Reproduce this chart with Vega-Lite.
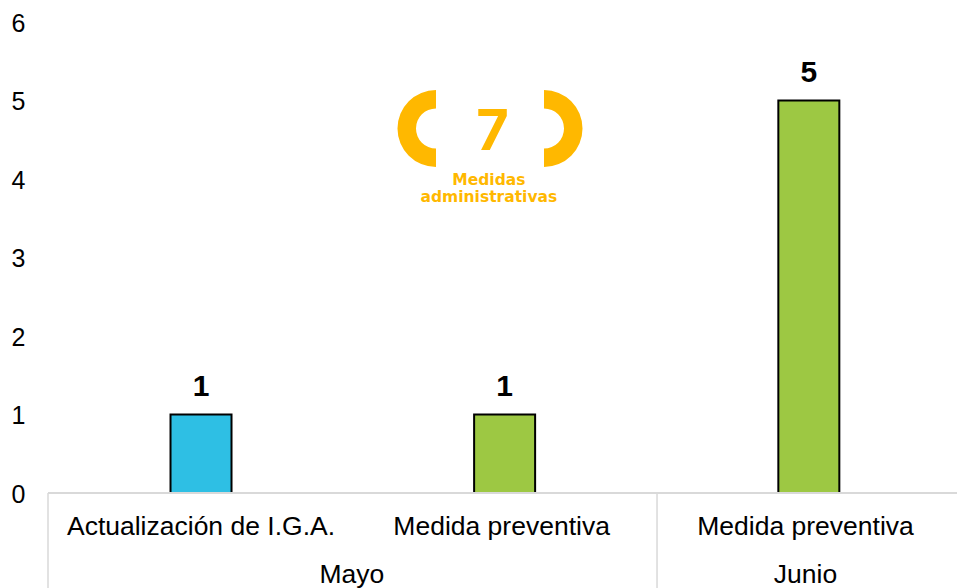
{
"$schema":"https://vega.github.io/schema/vega-lite/v6.json",
"width":909,"height":566,
"autosize":{"type":"none"},
"padding":{"left":48,"top":22,"right":0,"bottom":0},
"background":"white",
"config":{"view":{"stroke":null},"font":"Liberation Sans"},
"datasets":{
"barras":[
{"pos":0.505,"valor":1,"tipo":"Actualización de I.G.A.","mes":"Mayo"},
{"pos":1.507,"valor":1,"tipo":"Medida preventiva","mes":"Mayo"},
{"pos":2.511,"valor":5,"tipo":"Medida preventiva","mes":"Junio"}],
"cat":[
{"pos":0.505,"nivel":-0.43,"texto":"Actualización de I.G.A."},
{"pos":1.497,"nivel":-0.43,"texto":"Medida preventiva"},
{"pos":2.5,"nivel":-0.43,"texto":"Medida preventiva"},
{"pos":1.003,"nivel":-1.04,"texto":"Mayo"},
{"pos":2.5,"nivel":-1.04,"texto":"Junio"}],
"sep":[{"pos":0,"a":-1.212,"b":0},{"pos":2.01,"a":-1.212,"b":0}],
"base":[{"a":0,"b":3,"nivel":0}],
"logoIzq":[{"pos":1.2805,"nivel":4.643}],
"logoDer":[{"pos":1.637,"nivel":4.643}],
"logoNum":[{"pos":1.467,"nivel":4.58,"texto":"7"}],
"logoTxt":[{"pos":1.455,"nivel":3.985,"texto":"Medidas"},{"pos":1.455,"nivel":3.765,"texto":"administrativas"}]
},
"layer":[
{"data":{"name":"sep"},"mark":{"type":"rule","color":"#D9D9D9","strokeWidth":1.5},
"encoding":{"x":{"field":"pos","type":"quantitative","scale":{"domain":[0,3],"nice":false,"zero":false,"padding":0},"axis":null},
"y":{"field":"a","type":"quantitative","scale":{"domain":[-1.212,6],"nice":false,"zero":false},
"axis":{"values":[0,1,2,3,4,5,6],"title":null,"domain":false,"ticks":false,"grid":false,"labelFontSize":25,"labelColor":"#000000","labelPadding":23,"labelOffset":1.5,"format":"d","labelFont":"Liberation Sans"}},
"y2":{"field":"b"}}},
{"data":{"name":"barras"},"mark":{"type":"bar","width":61,"stroke":"#000000","strokeWidth":2,"orient":"vertical"},
"encoding":{"x":{"field":"pos","type":"quantitative"},"y":{"field":"valor","type":"quantitative","stack":null},
"fill":{"field":"tipo","type":"nominal","legend":null,"scale":{"domain":["Actualización de I.G.A.","Medida preventiva"],"range":["#2EBFE4","#9DC843"]}}}},
{"data":{"name":"base"},"mark":{"type":"rule","color":"#D9D9D9","strokeWidth":2},
"encoding":{"x":{"field":"a","type":"quantitative"},"x2":{"field":"b"},"y":{"field":"nivel","type":"quantitative"}}},
{"data":{"name":"barras"},"mark":{"type":"text","fontSize":30,"fontWeight":"bold","color":"#000000","baseline":"alphabetic","dy":-18},
"encoding":{"x":{"field":"pos","type":"quantitative"},"y":{"field":"valor","type":"quantitative","stack":null},"text":{"field":"valor","type":"quantitative"}}},
{"data":{"name":"cat"},"mark":{"type":"text","fontSize":26.5,"color":"#000000","baseline":"middle"},
"encoding":{"x":{"field":"pos","type":"quantitative"},"y":{"field":"nivel","type":"quantitative"},"text":{"field":"texto","type":"nominal"}}},
{"data":{"name":"logoIzq"},"mark":{"type":"arc","radius":38.5,"radius2":20,"theta":3.14159,"theta2":6.28318,"color":"#FFB800"},
"encoding":{"x":{"field":"pos","type":"quantitative"},"y":{"field":"nivel","type":"quantitative"}}},
{"data":{"name":"logoDer"},"mark":{"type":"arc","radius":38.5,"radius2":20,"theta":0,"theta2":3.14159,"color":"#FFB800"},
"encoding":{"x":{"field":"pos","type":"quantitative"},"y":{"field":"nivel","type":"quantitative"}}},
{"data":{"name":"logoNum"},"mark":{"type":"text","fontSize":56,"fontWeight":"bold","font":"Inter","color":"#FFB800","baseline":"middle"},
"encoding":{"x":{"field":"pos","type":"quantitative"},"y":{"field":"nivel","type":"quantitative"},"text":{"field":"texto","type":"nominal"}}},
{"data":{"name":"logoTxt"},"mark":{"type":"text","fontSize":15.5,"fontWeight":"bold","font":"DejaVu Sans","color":"#FFB800","baseline":"middle"},
"encoding":{"x":{"field":"pos","type":"quantitative"},"y":{"field":"nivel","type":"quantitative"},"text":{"field":"texto","type":"nominal"}}}
]
}
